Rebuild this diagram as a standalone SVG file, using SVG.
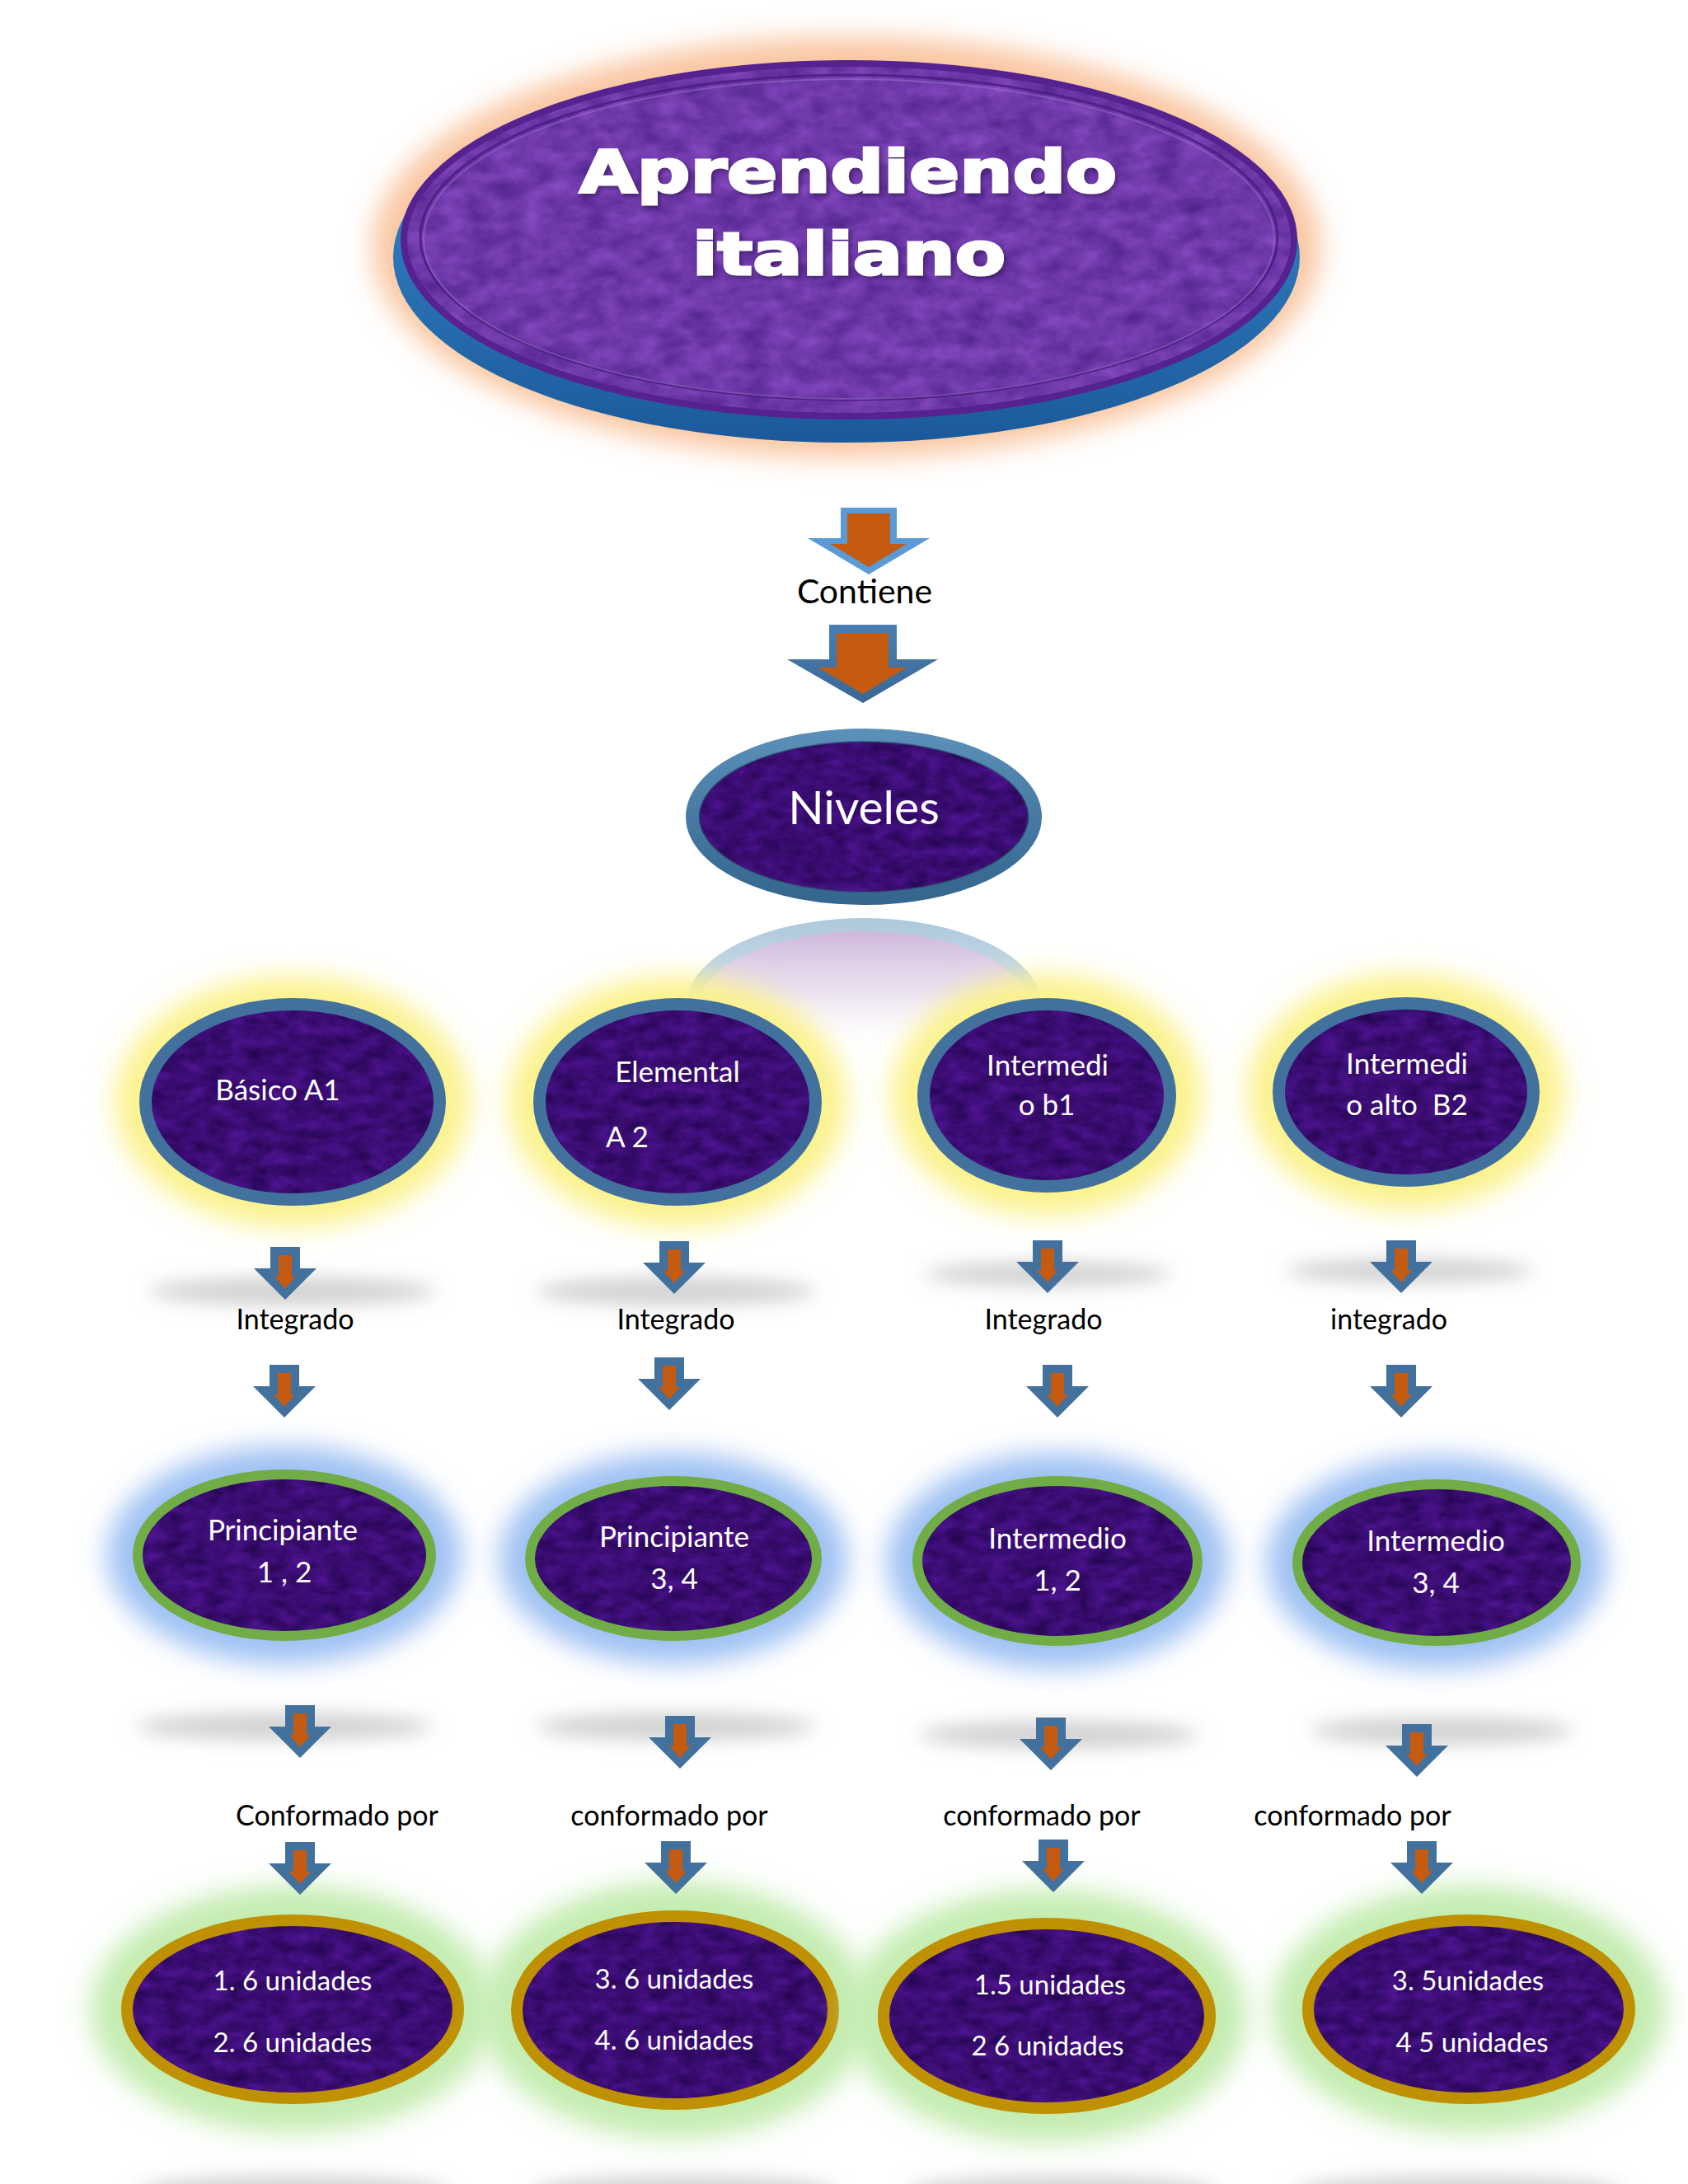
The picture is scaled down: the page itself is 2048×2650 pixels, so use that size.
<svg xmlns="http://www.w3.org/2000/svg" xmlns:xlink="http://www.w3.org/1999/xlink" width="2048" height="2650" viewBox="0 0 2048 2650">
<defs>
<style>
.lbl{font-family:Lato,'Noto Sans',sans-serif;fill:#000;font-size:34px;text-anchor:middle}
.wt{font-family:Lato,'Noto Sans',sans-serif;fill:#fff;text-anchor:middle;font-size:35px}
.ttl{font-family:'DejaVu Sans',sans-serif;font-weight:bold;font-size:72px;text-anchor:middle}
.o{fill:#41719c}
.i{fill:#c55a11}
.s2{fill:none;stroke:#41719c;stroke-width:15}
.s3{fill:none;stroke:#70ad47;stroke-width:12}
.s4{fill:none;stroke:#bf9000;stroke-width:14}
.gy{fill:#fbf28c}
.gb{fill:#9fc1f3}
.gg{fill:#c4ecb0}
.band{fill:#d2d2d2}
</style>
<filter id="tex" x="0" y="0" width="100%" height="100%" color-interpolation-filters="sRGB">
<feTurbulence type="fractalNoise" baseFrequency="0.04 0.07" numOctaves="4" seed="5" result="n"/>
<feColorMatrix in="n" type="matrix" values="0.22 0 0 0 0.12  0.08 0 0 0 0.01  0.34 0 0 0 0.28  0 0 0 0 1" result="c"/>
<feComposite in="c" in2="SourceGraphic" operator="in"/>
</filter>
<filter id="texL" x="0" y="0" width="100%" height="100%" color-interpolation-filters="sRGB">
<feTurbulence type="fractalNoise" baseFrequency="0.03 0.05" numOctaves="4" seed="9" result="n"/>
<feColorMatrix in="n" type="matrix" values="0.26 0 0 0 0.3  0.18 0 0 0 0.13  0.26 0 0 0 0.53  0 0 0 0 1" result="c"/>
<feComposite in="c" in2="SourceGraphic" operator="in"/>
</filter>
<filter id="blur" x="-30%" y="-50%" width="160%" height="200%"><feGaussianBlur stdDeviation="16"/></filter>
<filter id="blurB" x="-30%" y="-100%" width="160%" height="300%"><feGaussianBlur stdDeviation="11"/></filter>
<filter id="sh" x="-10%" y="-30%" width="120%" height="160%"><feGaussianBlur stdDeviation="2"/></filter>
<linearGradient id="baseG" x1="0" y1="0" x2="0" y2="1"><stop offset="0" stop-color="#3c8fd4"/><stop offset="1" stop-color="#1b5a9a"/></linearGradient>
<linearGradient id="bigA" x1="0" y1="0" x2="0" y2="1"><stop offset="0" stop-color="#4a7fb2"/><stop offset="1" stop-color="#3a6794"/></linearGradient>
<linearGradient id="nivS" x1="0" y1="0" x2="0" y2="1"><stop offset="0" stop-color="#5a8fb8"/><stop offset="1" stop-color="#34668e"/></linearGradient>
<linearGradient id="refF" x1="0" y1="0" x2="0" y2="1"><stop offset="0" stop-color="#c4a8d4"/><stop offset="1" stop-color="#ffffff"/></linearGradient>
<linearGradient id="refM" x1="0" y1="0" x2="0" y2="1"><stop offset="0" stop-color="#fff" stop-opacity="0.95"/><stop offset="0.6" stop-color="#fff" stop-opacity="0.6"/><stop offset="1" stop-color="#fff" stop-opacity="0"/></linearGradient>
<mask id="refMask" maskUnits="userSpaceOnUse" x="800" y="1100" width="500" height="200"><rect x="800" y="1105" width="500" height="160" fill="url(#refM)"/></mask>
<g id="arr"><path class="o" d="M-18,0H18V26H38L0,64L-38,26H-18Z"/><path class="i" d="M-8,10H8V36H13L0,51L-13,36H-8Z"/></g>
</defs>
<rect width="2048" height="2650" fill="#fff"/>

<g id="node-aprendiendo">
<ellipse cx="1027" cy="300" rx="575" ry="255" fill="#f9c6a0" filter="url(#blur)"/>
<ellipse cx="1027" cy="312" rx="550" ry="225" fill="url(#baseG)"/>
<ellipse cx="1030" cy="291" rx="540" ry="214" fill="#7040b0" filter="url(#texL)"/>
<ellipse cx="1030" cy="291" rx="540" ry="214" fill="none" stroke="#56228f" stroke-width="8"/>
<ellipse cx="1030" cy="288" rx="520" ry="197" fill="none" stroke="#4a1a80" stroke-width="3" opacity="0.8"/>
<ellipse cx="1030" cy="290" rx="516" ry="194" fill="none" stroke="#9a76cc" stroke-width="2" opacity="0.5"/>
<g class="ttl" fill="#2a1840" stroke="#2a1840" stroke-width="3" opacity="0.5" filter="url(#sh)">
<text x="1032" y="236" textLength="652" lengthAdjust="spacingAndGlyphs">Aprendiendo</text>
<text x="1033" y="336" textLength="380" lengthAdjust="spacingAndGlyphs">italiano</text>
</g>
<g class="ttl" fill="#ffffff" stroke="#ffffff" stroke-width="3">
<text x="1029" y="233" textLength="652" lengthAdjust="spacingAndGlyphs">Aprendiendo</text>
<text x="1030" y="333" textLength="380" lengthAdjust="spacingAndGlyphs">italiano</text>
</g>
</g>

<g id="reflection" mask="url(#refMask)">
<ellipse cx="1048" cy="1222" rx="208" ry="100" fill="url(#refF)" stroke="#a6c4d8" stroke-width="16"/>
</g>

<g id="node-niveles">
<ellipse cx="1048" cy="991" rx="208" ry="99" fill="#3d0c74" filter="url(#tex)"/>
<ellipse cx="1048" cy="991" rx="208" ry="99" fill="none" stroke="url(#nivS)" stroke-width="16"/>
<ellipse cx="1048" cy="991" rx="199" ry="91" fill="none" stroke="#2a3f66" stroke-width="2" opacity="0.6"/>
<text class="wt" x="1048" y="1000" style="font-size:57px">Niveles</text>
</g>

<g id="node-basico">
<ellipse class="gy" cx="355" cy="1337" rx="215" ry="152" filter="url(#blur)"/>
<ellipse cx="355" cy="1337" rx="178.5" ry="118.5" fill="#3d0c74" filter="url(#tex)"/>
<ellipse class="s2" cx="355" cy="1337" rx="178.5" ry="118.5"/>
<text class="wt" x="337" y="1335">Básico A1</text>
</g>

<g id="node-elemental">
<ellipse class="gy" cx="822" cy="1337" rx="205" ry="152" filter="url(#blur)"/>
<ellipse cx="822" cy="1337" rx="167.5" ry="118.5" fill="#3d0c74" filter="url(#tex)"/>
<ellipse class="s2" cx="822" cy="1337" rx="167.5" ry="118.5"/>
<text class="wt" x="822" y="1313">Elemental</text>
<text class="wt" x="735" y="1392" style="text-anchor:start">A 2</text>
</g>

<g id="node-b1">
<ellipse class="gy" cx="1270" cy="1329" rx="188" ry="146" filter="url(#blur)"/>
<ellipse cx="1270" cy="1329" rx="149.5" ry="110.5" fill="#3d0c74" filter="url(#tex)"/>
<ellipse class="s2" cx="1270" cy="1329" rx="149.5" ry="110.5"/>
<text class="wt" x="1271" y="1305">Intermedi</text>
<text class="wt" x="1270" y="1353">o b1</text>
</g>

<g id="node-b2">
<ellipse class="gy" cx="1706" cy="1325" rx="192" ry="143" filter="url(#blur)"/>
<ellipse cx="1706" cy="1325" rx="154.5" ry="107.5" fill="#3d0c74" filter="url(#tex)"/>
<ellipse class="s2" cx="1706" cy="1325" rx="154.5" ry="107.5"/>
<text class="wt" x="1707" y="1303">Intermedi</text>
<text class="wt" x="1707" y="1353" style="white-space:pre">o alto  B2</text>
</g>

<g id="node-principiante12">
<ellipse class="gb" cx="345" cy="1887" rx="215" ry="132" filter="url(#blur)"/>
<ellipse cx="345" cy="1887" rx="178" ry="98" fill="#3d0c74" filter="url(#tex)"/>
<ellipse class="s3" cx="345" cy="1887" rx="178" ry="98"/>
<text class="wt" x="343" y="1869">Principiante</text>
<text class="wt" x="345" y="1920">1 , 2</text>
</g>

<g id="node-principiante34">
<ellipse class="gb" cx="817" cy="1891" rx="211" ry="128" filter="url(#blur)"/>
<ellipse cx="817" cy="1891" rx="174" ry="94" fill="#3d0c74" filter="url(#tex)"/>
<ellipse class="s3" cx="817" cy="1891" rx="174" ry="94"/>
<text class="wt" x="818" y="1877">Principiante</text>
<text class="wt" x="818" y="1928">3, 4</text>
</g>

<g id="node-intermedio12">
<ellipse class="gb" cx="1283" cy="1894" rx="207" ry="131" filter="url(#blur)"/>
<ellipse cx="1283" cy="1894" rx="170" ry="97" fill="#3d0c74" filter="url(#tex)"/>
<ellipse class="s3" cx="1283" cy="1894" rx="170" ry="97"/>
<text class="wt" x="1283" y="1879">Intermedio</text>
<text class="wt" x="1283" y="1930">1, 2</text>
</g>

<g id="node-intermedio34">
<ellipse class="gb" cx="1743" cy="1896" rx="206" ry="129" filter="url(#blur)"/>
<ellipse cx="1743" cy="1896" rx="169" ry="95" fill="#3d0c74" filter="url(#tex)"/>
<ellipse class="s3" cx="1743" cy="1896" rx="169" ry="95"/>
<text class="wt" x="1742" y="1882">Intermedio</text>
<text class="wt" x="1742" y="1933">3, 4</text>
</g>

<g id="node-unidades1">
<ellipse class="gg" cx="355" cy="2438" rx="245" ry="150" filter="url(#blur)"/>
<ellipse cx="355" cy="2438" rx="201" ry="108" fill="#3d0c74" filter="url(#tex)"/>
<ellipse class="s4" cx="355" cy="2438" rx="201" ry="108"/>
<text class="wt" x="355" y="2415" style="font-size:33px">1. 6 unidades</text>
<text class="wt" x="355" y="2490" style="font-size:33px">2. 6 unidades</text>
</g>

<g id="node-unidades2">
<ellipse class="gg" cx="819" cy="2439" rx="236" ry="156" filter="url(#blur)"/>
<ellipse cx="819" cy="2439" rx="192" ry="114" fill="#3d0c74" filter="url(#tex)"/>
<ellipse class="s4" cx="819" cy="2439" rx="192" ry="114"/>
<text class="wt" x="818" y="2413" style="font-size:33px">3. 6 unidades</text>
<text class="wt" x="818" y="2487" style="font-size:33px">4. 6 unidades</text>
</g>

<g id="node-unidades3">
<ellipse class="gg" cx="1270" cy="2446" rx="242" ry="154" filter="url(#blur)"/>
<ellipse cx="1270" cy="2446" rx="198" ry="112" fill="#3d0c74" filter="url(#tex)"/>
<ellipse class="s4" cx="1270" cy="2446" rx="198" ry="112"/>
<text class="wt" x="1274" y="2420" style="font-size:33px">1.5 unidades</text>
<text class="wt" x="1271" y="2494" style="font-size:33px">2 6 unidades</text>
</g>

<g id="node-unidades4">
<ellipse class="gg" cx="1782" cy="2438" rx="239" ry="150" filter="url(#blur)"/>
<ellipse cx="1782" cy="2438" rx="195" ry="108" fill="#3d0c74" filter="url(#tex)"/>
<ellipse class="s4" cx="1782" cy="2438" rx="195" ry="108"/>
<text class="wt" x="1781" y="2415" style="font-size:33px">3. 5unidades</text>
<text class="wt" x="1786" y="2490" style="font-size:33px">4 5 unidades</text>
</g>

<g id="shadows">
<ellipse class="band" cx="355" cy="1567" rx="175" ry="17" filter="url(#blurB)"/>
<ellipse class="band" cx="820" cy="1567" rx="170" ry="17" filter="url(#blurB)"/>
<ellipse class="band" cx="1271" cy="1546" rx="150" ry="15" filter="url(#blurB)"/>
<ellipse class="band" cx="1710" cy="1542" rx="150" ry="15" filter="url(#blurB)"/>
<ellipse class="band" cx="345" cy="2095" rx="180" ry="17" filter="url(#blurB)"/>
<ellipse class="band" cx="820" cy="2095" rx="170" ry="17" filter="url(#blurB)"/>
<ellipse class="band" cx="1285" cy="2105" rx="170" ry="17" filter="url(#blurB)"/>
<ellipse class="band" cx="1749" cy="2100" rx="160" ry="17" filter="url(#blurB)"/>
<ellipse class="band" cx="355" cy="2660" rx="190" ry="20" filter="url(#blurB)"/>
<ellipse class="band" cx="830" cy="2660" rx="185" ry="20" filter="url(#blurB)"/>
<ellipse class="band" cx="1290" cy="2660" rx="190" ry="20" filter="url(#blurB)"/>
<ellipse class="band" cx="1770" cy="2660" rx="200" ry="20" filter="url(#blurB)"/>
</g>

<g id="connectors">
<path fill="#5b9bd5" d="M1020,616H1088V653H1128L1054,697L980,653H1020Z"/>
<path fill="#c55a11" d="M1028,623H1080V660H1100L1054,688L1007,660H1028Z"/>
<text class="lbl" x="1049" y="732" style="font-size:41px">Contiene</text>
<path fill="url(#bigA)" d="M1006,758H1088V800H1138L1047,853L955,800H1006Z"/>
<path fill="#c55a11" d="M1015,768H1078V810H1100L1047,842L993,810H1015Z"/>

<use xlink:href="#arr" x="346" y="1513"/>
<use xlink:href="#arr" x="345" y="1656"/>
<use xlink:href="#arr" x="818" y="1506"/>
<use xlink:href="#arr" x="812" y="1647"/>
<use xlink:href="#arr" x="1271" y="1505"/>
<use xlink:href="#arr" x="1283" y="1656"/>
<use xlink:href="#arr" x="1700" y="1505"/>
<use xlink:href="#arr" x="1700" y="1656"/>
<text class="lbl" x="358" y="1613">Integrado</text>
<text class="lbl" x="820" y="1613">Integrado</text>
<text class="lbl" x="1266" y="1613">Integrado</text>
<text class="lbl" x="1685" y="1613">integrado</text>

<use xlink:href="#arr" x="364" y="2069"/>
<use xlink:href="#arr" x="364" y="2235"/>
<use xlink:href="#arr" x="825" y="2082"/>
<use xlink:href="#arr" x="820" y="2234"/>
<use xlink:href="#arr" x="1275" y="2084"/>
<use xlink:href="#arr" x="1278" y="2232"/>
<use xlink:href="#arr" x="1719" y="2092"/>
<use xlink:href="#arr" x="1725" y="2234"/>
<text class="lbl" x="409" y="2215">Conformado por</text>
<text class="lbl" x="812" y="2215">conformado por</text>
<text class="lbl" x="1264" y="2215">conformado por</text>
<text class="lbl" x="1641" y="2215">conformado por</text>
</g>
</svg>
